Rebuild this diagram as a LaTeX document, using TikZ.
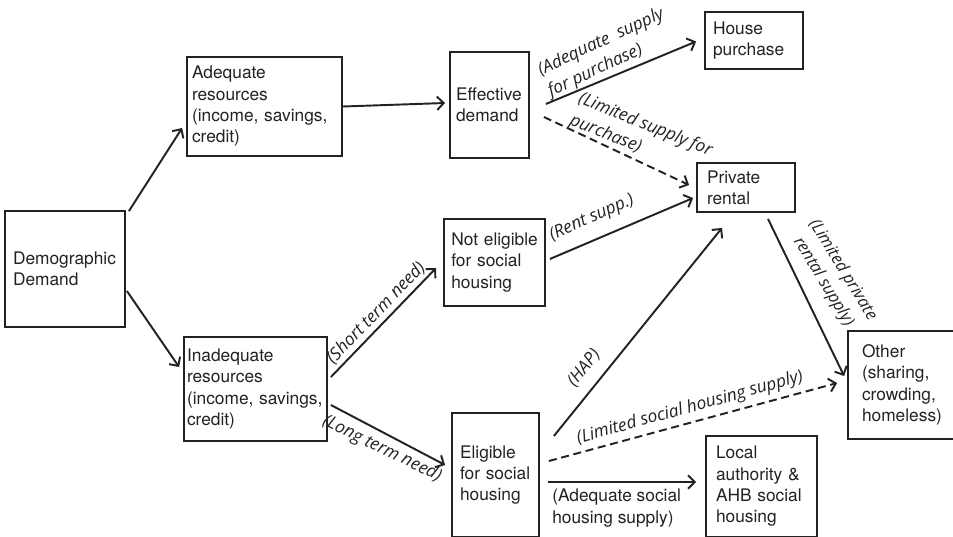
\documentclass[tikz,border=0pt]{standalone}
\usepackage{fontspec}
\setmainfont{TeX Gyre Heros}
\newfontfamily\lblfont{Open Sans}
\usetikzlibrary{arrows.meta,calc}
\definecolor{ink}{RGB}{34,34,34}
\begin{document}
\begin{tikzpicture}[x=0.75pt,y=-0.75pt,
  box/.style={draw=ink, line width=1.35pt, rectangle, align=left, text=ink,
    font=\fontsize{13}{16}\selectfont, inner ysep=2pt,
    execute at begin node={\hyphenpenalty=10000\exhyphenpenalty=10000}},
  plain/.style={align=left, text=ink, font=\fontsize{13}{16}\selectfont, inner sep=0pt},
  lbl/.style={font=\lblfont\itshape\fontsize{13}{17.5}\selectfont, text=ink, inner sep=0pt, align=left},
  arr/.style={draw=ink, line width=1.45pt, -{Straight Barb[length=5pt,width=10pt]}},
  darr/.style={arr, dash pattern=on 6pt off 3.5pt}]
\useasboundingbox (0,0) rectangle (953,536);
\fill[white] (0,0) rectangle (953,536);
\clip (0,0) rectangle (953,536);

% boxes
\node[box, minimum width=90pt, minimum height=87pt, inner xsep=6pt, text width=78pt] (demo) at (65,269) {Demographic\\Demand};
\node[box, minimum width=116.25pt, minimum height=74.25pt, inner xsep=3.75pt, text width=108.75pt] (adeq) at (264.5,106.5) {Adequate\\resources\\(income,~savings,\\credit)};
\node[box, minimum width=107.25pt, minimum height=78pt, inner xsep=2.25pt, text width=102.75pt] (inadeq) at (255.5,389) {Inadequate\\resources\\(income,~savings,\\credit)};
\node[box, minimum width=59.25pt, minimum height=79.5pt, inner xsep=4.5pt, text width=50.25pt] (eff) at (489.5,105) {Effective\\demand};
\node[box, minimum width=73.5pt, minimum height=42.75pt, inner xsep=6pt, text width=61.5pt] (house) at (754,40.5) {House\\purchase};
\node[box, minimum width=73.5pt, minimum height=36.75pt, inner xsep=7.5pt, text width=58.5pt] (priv) at (746,187.5) {Private\\rental};
\node[box, minimum width=75.75pt, minimum height=65.25pt, inner xsep=5.5pt, text width=64.75pt] (noteli) at (494.5,262.5) {Not~eligible\\for~social\\housing};
\node[box, minimum width=65.25pt, minimum height=93pt, inner xsep=6pt, text width=53.25pt] (eli) at (495.5,475) {Eligible\\for~social\\housing};
\node[box, minimum width=83.25pt, minimum height=75.75pt, inner xsep=7.5pt, text width=68.25pt] (local) at (761.5,486.5) {Local\\authority~\&\\AHB~social\\housing};
\node[box, minimum width=84pt, minimum height=81pt, inner xsep=10.5pt, text width=63pt] (other) at (904,385) {Other\\(sharing,\\crowding,\\homeless)};

% connectors
\draw[arr] ($(demo.north east)+(3,1)$) -- ($(adeq.west)+(-4,21.5)$);
\draw[arr] ($(demo.east)+(1,22)$) -- ($(inadeq.west)+(-4,-22)$);
\draw[arr] (adeq.east) -- ($(eff.west)+(-4,-2)$);
\draw[arr] ($(eff.east)+(16,-1)$) -- ($(house.west)+(-8,1)$);
\draw[darr] ($(eff.east)+(14,12)$) -- ($(priv.west)+(-7,-2.5)$);
\draw[arr] ($(noteli.east)+(4,-3.5)$) -- ($(priv.west)+(-3,10.5)$);
\draw[arr] ($(inadeq.east)+(3,-12)$) -- ($(noteli.west)+(-7,5.5)$);
\draw[arr] ($(inadeq.east)+(3,16)$) -- ($(eli.west)+(-6,-10)$);
\draw[arr] ($(eli.east)+(14,-39)$) -- ($(priv.south)+(-24,15)$);
\draw[darr] ($(eli.east)+(9,-14)$) -- ($(other.west)+(-10,-2)$);
\draw[arr] ($(eli.east)+(8,7)$) -- ($(local.west)+(-9,-4.5)$);
\draw[arr] ($(priv.south)+(22,6)$) -- ($(other.west)+(-3,-9)$);

% labels
\node[lbl, rotate=25] (l1) at (606,53) {(Adequate\ \ supply\\for purchase)};
\node[lbl, rotate=-22] (l2) at (641,136) {(Limited supply for\\purchase)};
\node[lbl, rotate=24] (l3) at (592,218) {(Rent supp.)};
\node[lbl, rotate=46] (l4) at (376,313) {(Short term need)};
\node[lbl, rotate=-26] (l5) at (382,449) {(Long term need)};
\node[lbl, rotate=51] (l6) at (584,368) {(HAP)};
\node[lbl, rotate=15.5] (l7) at (690,408) {(Limited social housing supply)};
\node[lbl, rotate=-58.5, align=center, font=\lblfont\itshape\fontsize{12.5}{17}\selectfont] (l8) at (833,276) {(Limited private\\rental supply)};
\node[plain, anchor=west] (l9) at (552,508) {(Adequate social\\housing supply)};
\end{tikzpicture}
\end{document}
